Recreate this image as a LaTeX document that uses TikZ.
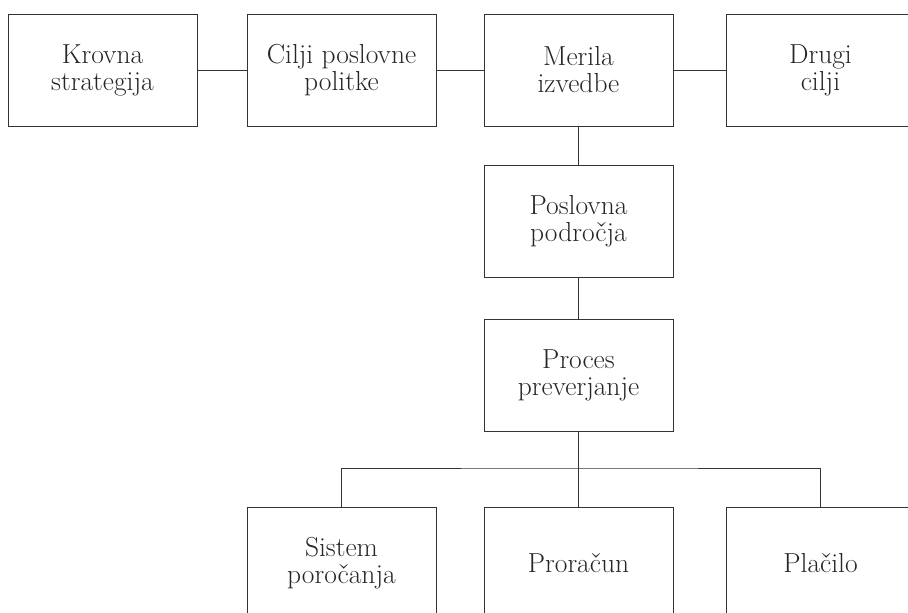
\documentclass[tikz,border=0pt]{standalone}
\usepackage{tikz}
\usetikzlibrary{positioning}

\begin{document}
\begin{tikzpicture}[x=1pt, y=-1pt]
	\useasboundingbox (0,0) rectangle (908,613);
	\clip (0,0) rectangle (908,613);

	\begin{scope}[every node/.style={rectangle, draw=black!80, line width=0.9pt,
	              minimum width=189pt, minimum height=112pt, inner sep=0pt,
	              align=center, text=black!85, font=\fontsize{27.5}{27}\selectfont}]
	    	\node (1) at (102.5,70) {Krovna\\strategija};
		\node (2) at (341.5,70) {Cilji poslovne\\politke};
	    	\node (3) at (578.5,70) {Merila\\izvedbe};
		\node (4) at (820.5,70) {Drugi\\cilji};
		\node (5) at (578.5,221.5) {Poslovna\\področja};
		\node (6) at (578.5,375) {Proces\\preverjanje};
		\node (7) at (341.5,563) {Sistem\\poročanja};
		\node (8) at (578.5,563) {Proračun};
		\node (9) at (820.5,563) {Plačilo};
	\end{scope}

	\coordinate (bus) at (578.5,468);

	\begin{scope}[every edge/.style={draw=black!80, line width=0.9pt}]
		\path (1) edge (2);
		\path (2) edge (3);
		\path (3) edge (4);
		\path (3) edge (5);
		\path (5) edge (6);
		\path (6) edge (8);
	\end{scope}
	\draw[black!80, line width=0.9pt] (7.north) |- (bus) -| (9.north);
\end{tikzpicture}
\end{document}
